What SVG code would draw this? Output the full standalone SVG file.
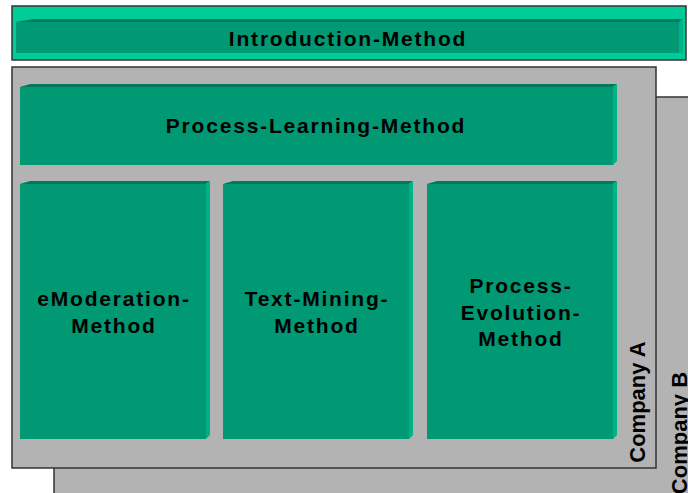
<svg xmlns="http://www.w3.org/2000/svg" width="688" height="493" viewBox="0 0 688 493">
<style>
.frame{fill:#b3b3b3;stroke:#333;stroke-width:1.5}
.face{fill:#009973}
.top{fill:#007a5c}
.side{fill:#00b386}
.t{font-family:"Liberation Sans",Arial,sans-serif;font-weight:bold;font-size:21px;letter-spacing:1.8px;fill:#000;text-anchor:middle}
.co{font-family:"Liberation Sans",Arial,sans-serif;font-weight:bold;font-size:22px;fill:#000;text-anchor:middle}
</style>
<rect width="688" height="493" fill="#fff"/>
<g id="companyB">
<rect class="frame" x="54" y="97" width="650" height="420"/>
<text class="co" transform="translate(687,433) rotate(-90)">Company B</text>
</g>
<g id="companyA">
<rect class="frame" x="12" y="67" width="644" height="401"/>
<text class="co" transform="translate(645,402) rotate(-90)">Company A</text>
</g>
<g id="introduction">
<rect x="12" y="6" width="674" height="54" fill="#00cc99" stroke="#333" stroke-width="1.5"/>
<rect class="face" x="16" y="22" width="663" height="31"/>
<polygon class="top" points="16,22 34,19 683,19 679,22"/>
<polygon class="side" points="679,22 683,19 683,53 679,53"/>
<text class="t" x="348" y="46">Introduction-Method</text>
</g>
<g id="processLearning">
<rect class="face" x="20" y="87" width="593" height="78"/>
<polygon class="top" points="20,87 30,84 617,84 613,87"/>
<polygon class="side" points="613,87 617,84 617,161 613,165"/>
<text class="t" x="316" y="133">Process-Learning-Method</text>
</g>
<g id="eModeration">
<rect class="face" x="20" y="184" width="186" height="255"/>
<polygon class="top" points="20,184 30,181 210,181 206,184"/>
<polygon class="side" points="206,184 210,181 210,435 206,439"/>
<text class="t" x="114" y="306">eModeration-</text>
<text class="t" x="114" y="333">Method</text>
</g>
<g id="textMining">
<rect class="face" x="223" y="184" width="186" height="255"/>
<polygon class="top" points="223,184 233,181 413,181 409,184"/>
<polygon class="side" points="409,184 413,181 413,435 409,439"/>
<text class="t" x="317" y="306">Text-Mining-</text>
<text class="t" x="317" y="333">Method</text>
</g>
<g id="processEvolution">
<rect class="face" x="427" y="184" width="186" height="255"/>
<polygon class="top" points="427,184 437,181 617,181 613,184"/>
<polygon class="side" points="613,184 617,181 617,435 613,439"/>
<text class="t" x="521" y="293">Process-</text>
<text class="t" x="521" y="320">Evolution-</text>
<text class="t" x="521" y="346">Method</text>
</g>
<g id="connectors"></g>
</svg>
